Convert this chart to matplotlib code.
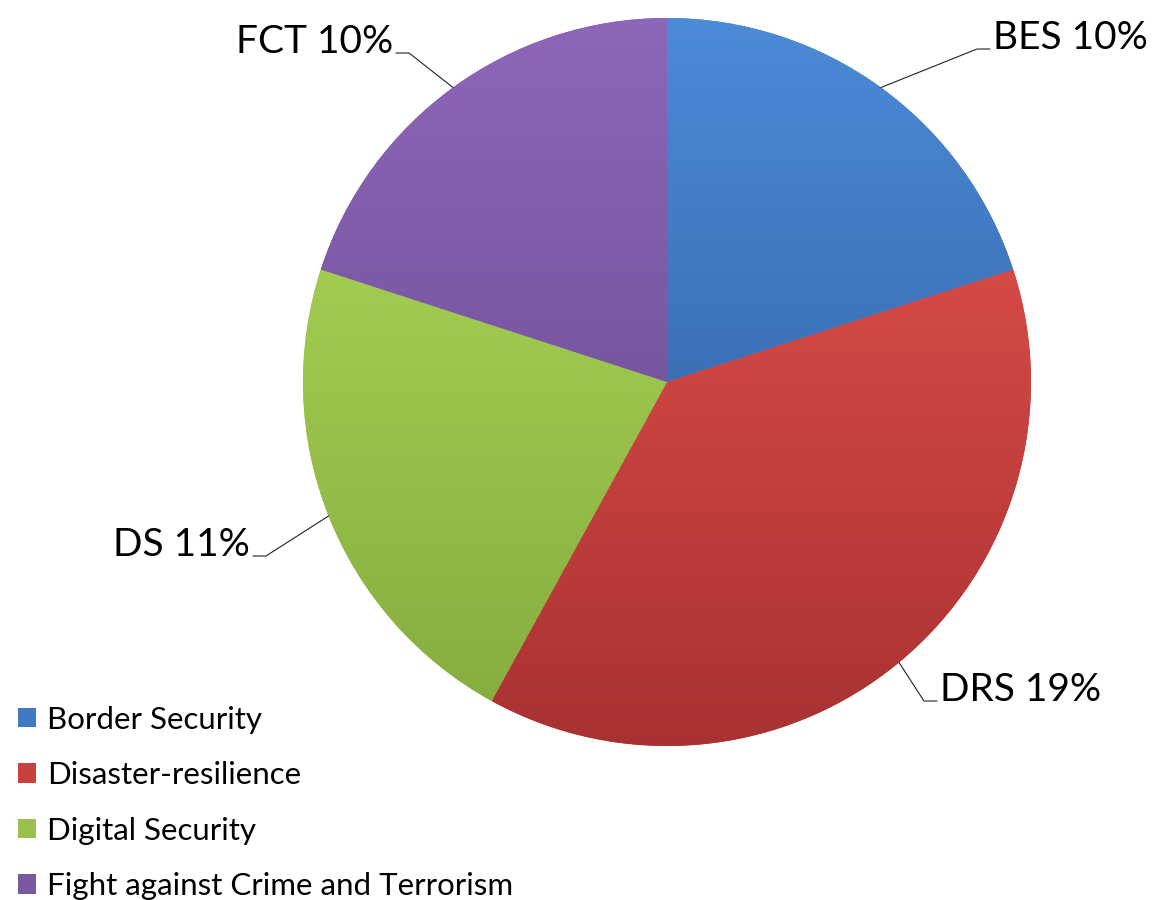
import matplotlib.pyplot as plt
import matplotlib.colors as mcolors
import numpy as np

plt.rcParams['font.family'] = ['Lato', 'DejaVu Sans']

# slice data
codes = ['BES', 'DRS', 'DS', 'FCT']
shares = [10, 19, 11, 10]
names = ['Border Security', 'Disaster-resilience', 'Digital Security',
         'Fight against Crime and Terrorism']
slice_labels = [f'{c} {s}%' for c, s in zip(codes, shares)]

# excel-ish colours: base, top of gradient, bottom of gradient
base = ['#4279C4', '#C9403D', '#99C04C', '#7A58A0']
tops = ['#4C8BD8', '#EE5650', '#B2DE5A', '#8E66BA']
bots = ['#2C5592', '#A83232', '#84AA3E', '#604686']

W, H = 1158, 900
fig = plt.figure(figsize=(W / 100, H / 100), dpi=100)
ax = fig.add_axes([0, 0, 1, 1])

cx, cy, r = 667, H - 382, 364
wedges, _ = ax.pie(shares, colors=base, startangle=90, counterclock=False,
                   center=(cx, cy), radius=r, wedgeprops=dict(linewidth=0))

# vertical gradient fill clipped to each wedge
ys = np.linspace(0, 1, 256)[:, None]
for w, top, bot in zip(wedges, tops, bots):
    t = np.array(mcolors.to_rgb(top))
    b = np.array(mcolors.to_rgb(bot))
    img = (t + (b - t) * ys)[:, None, :]
    im = ax.imshow(img, extent=[cx - r, cx + r, cy - r, cy + r], origin='upper',
                   interpolation='bilinear', aspect='auto', zorder=2)
    im.set_clip_path(w)

# label placement (x of text edge, baseline y in image px)
label_pos = [(993, 49), (940, 701), (250, 556), (393, 53)]
sides = ['left', 'left', 'right', 'right']

for w, lab, (tx, ty), side in zip(wedges, slice_labels, label_pos, sides):
    ang = np.deg2rad((w.theta1 + w.theta2) / 2)
    ex, ey = cx + r * np.cos(ang), cy + r * np.sin(ang)
    ty = H - ty
    sgn = -1 if side == 'left' else 1
    hx = tx + sgn * 3
    kx = hx + sgn * 13
    angB = np.degrees(np.arctan2(ty - ey, kx - ex))
    ax.annotate('', xy=(ex, ey), xytext=(hx, ty),
                arrowprops=dict(arrowstyle='-', color='#222222', lw=0.8,
                                shrinkA=0, shrinkB=0,
                                connectionstyle=f'angle,angleA=0,angleB={angB},rad=0'),
                zorder=3)
    ax.text(tx, ty, lab, ha=side, va='baseline', fontsize=28, color='black')

leg = ax.legend(wedges, names, loc='upper left', bbox_to_anchor=(0.0155, 0.216),
                frameon=False, fontsize=22.5, handlelength=0.58, handleheight=0.58,
                handletextpad=0.35, labelspacing=0.88, borderpad=0, borderaxespad=0)

ax.set_xlim(0, W)
ax.set_ylim(0, H)
ax.axis('off')

fig.savefig('out.png', dpi=100, facecolor='white')
